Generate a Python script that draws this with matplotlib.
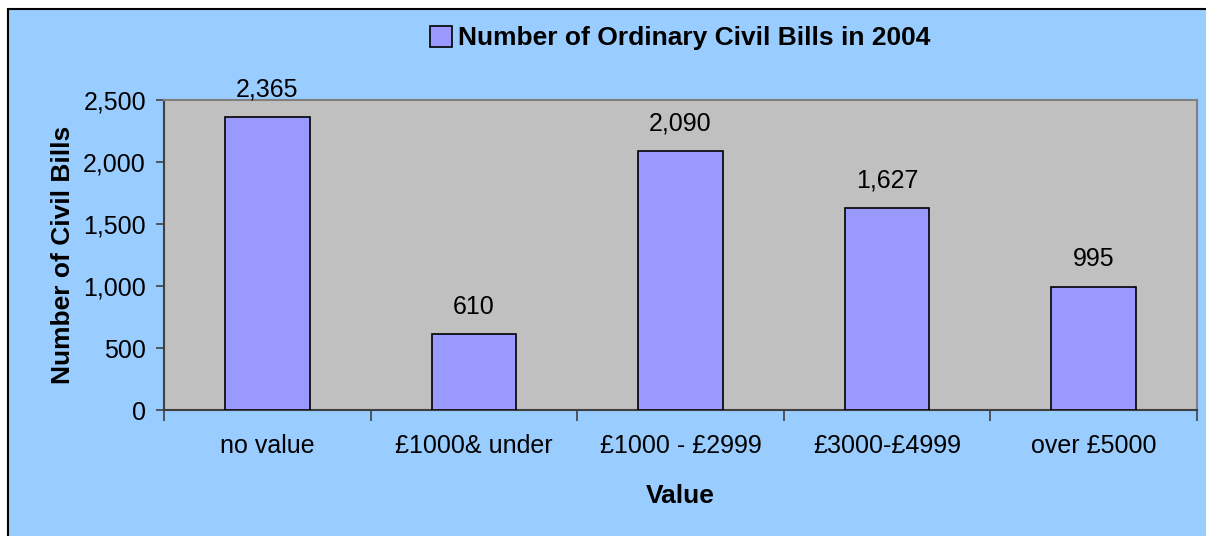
import matplotlib.pyplot as plt
from matplotlib.patches import Rectangle
from matplotlib.ticker import FuncFormatter, FixedLocator

plt.rcParams['font.family'] = ['Liberation Sans', 'DejaVu Sans']

categories = ['no value', '£1000& under', '£1000 - £2999', '£3000-£4999', 'over £5000']
bills = [2365, 610, 2090, 1627, 995]

W, H = 1206, 536
fig = plt.figure(figsize=(W / 100, H / 100), dpi=100)
fig.patch.set_facecolor('white')

# chart area background with black border on top and left
bg = Rectangle((8 / W, -0.1), 1.1, 1 - 9 / H + 0.1, transform=fig.transFigure,
               facecolor='#99ccff', edgecolor='black', linewidth=1.5, zorder=-10)
fig.patches.append(bg)

ax = fig.add_axes([164 / W, 1 - 410 / H, (1197 - 164) / W, (410 - 100) / H])
ax.set_facecolor('#c0c0c0')

x = range(len(categories))
ax.bar(x, bills, width=0.41, color='#9999ff', edgecolor='black', linewidth=1.2,
       label='Number of Ordinary Civil Bills in 2004', zorder=3)

for xi, v in zip(x, bills):
    ax.text(xi, v + 125, f'{v:,}', ha='center', va='bottom', fontsize=18)

ax.set_xlim(-0.5, len(categories) - 0.5)
ax.set_ylim(0, 2500)
ax.set_yticks([0, 500, 1000, 1500, 2000, 2500])
ax.yaxis.set_major_formatter(FuncFormatter(lambda v, p: f'{int(v):,}'))
ax.set_xticks(list(x))
ax.set_xticklabels(categories, fontsize=18)
ax.xaxis.set_minor_locator(FixedLocator([i - 0.5 for i in range(len(categories) + 1)]))
ax.tick_params(axis='x', which='major', length=0, pad=17)
ax.tick_params(axis='x', which='minor', length=8, width=1.2, color='#404040')
ax.tick_params(axis='y', labelsize=18, length=6, width=1.2, color='#404040', pad=7)

for side in ['top', 'right']:
    ax.spines[side].set_color('#808080')
    ax.spines[side].set_linewidth(1.5)
for side in ['left', 'bottom']:
    ax.spines[side].set_color('#404040')
    ax.spines[side].set_linewidth(1.5)

ax.set_xlabel('Value', fontsize=19, fontweight='bold', labelpad=19)
ax.set_ylabel('Number of Civil Bills', fontsize=19, fontweight='bold', labelpad=6)

fig.legend(loc='center', bbox_to_anchor=(680 / W, 1 - 38 / H), frameon=False,
           prop={'size': 19, 'weight': 'bold'}, handlelength=0.85, handleheight=0.85,
           handletextpad=0.2)

fig.savefig('out.png', dpi=100)
